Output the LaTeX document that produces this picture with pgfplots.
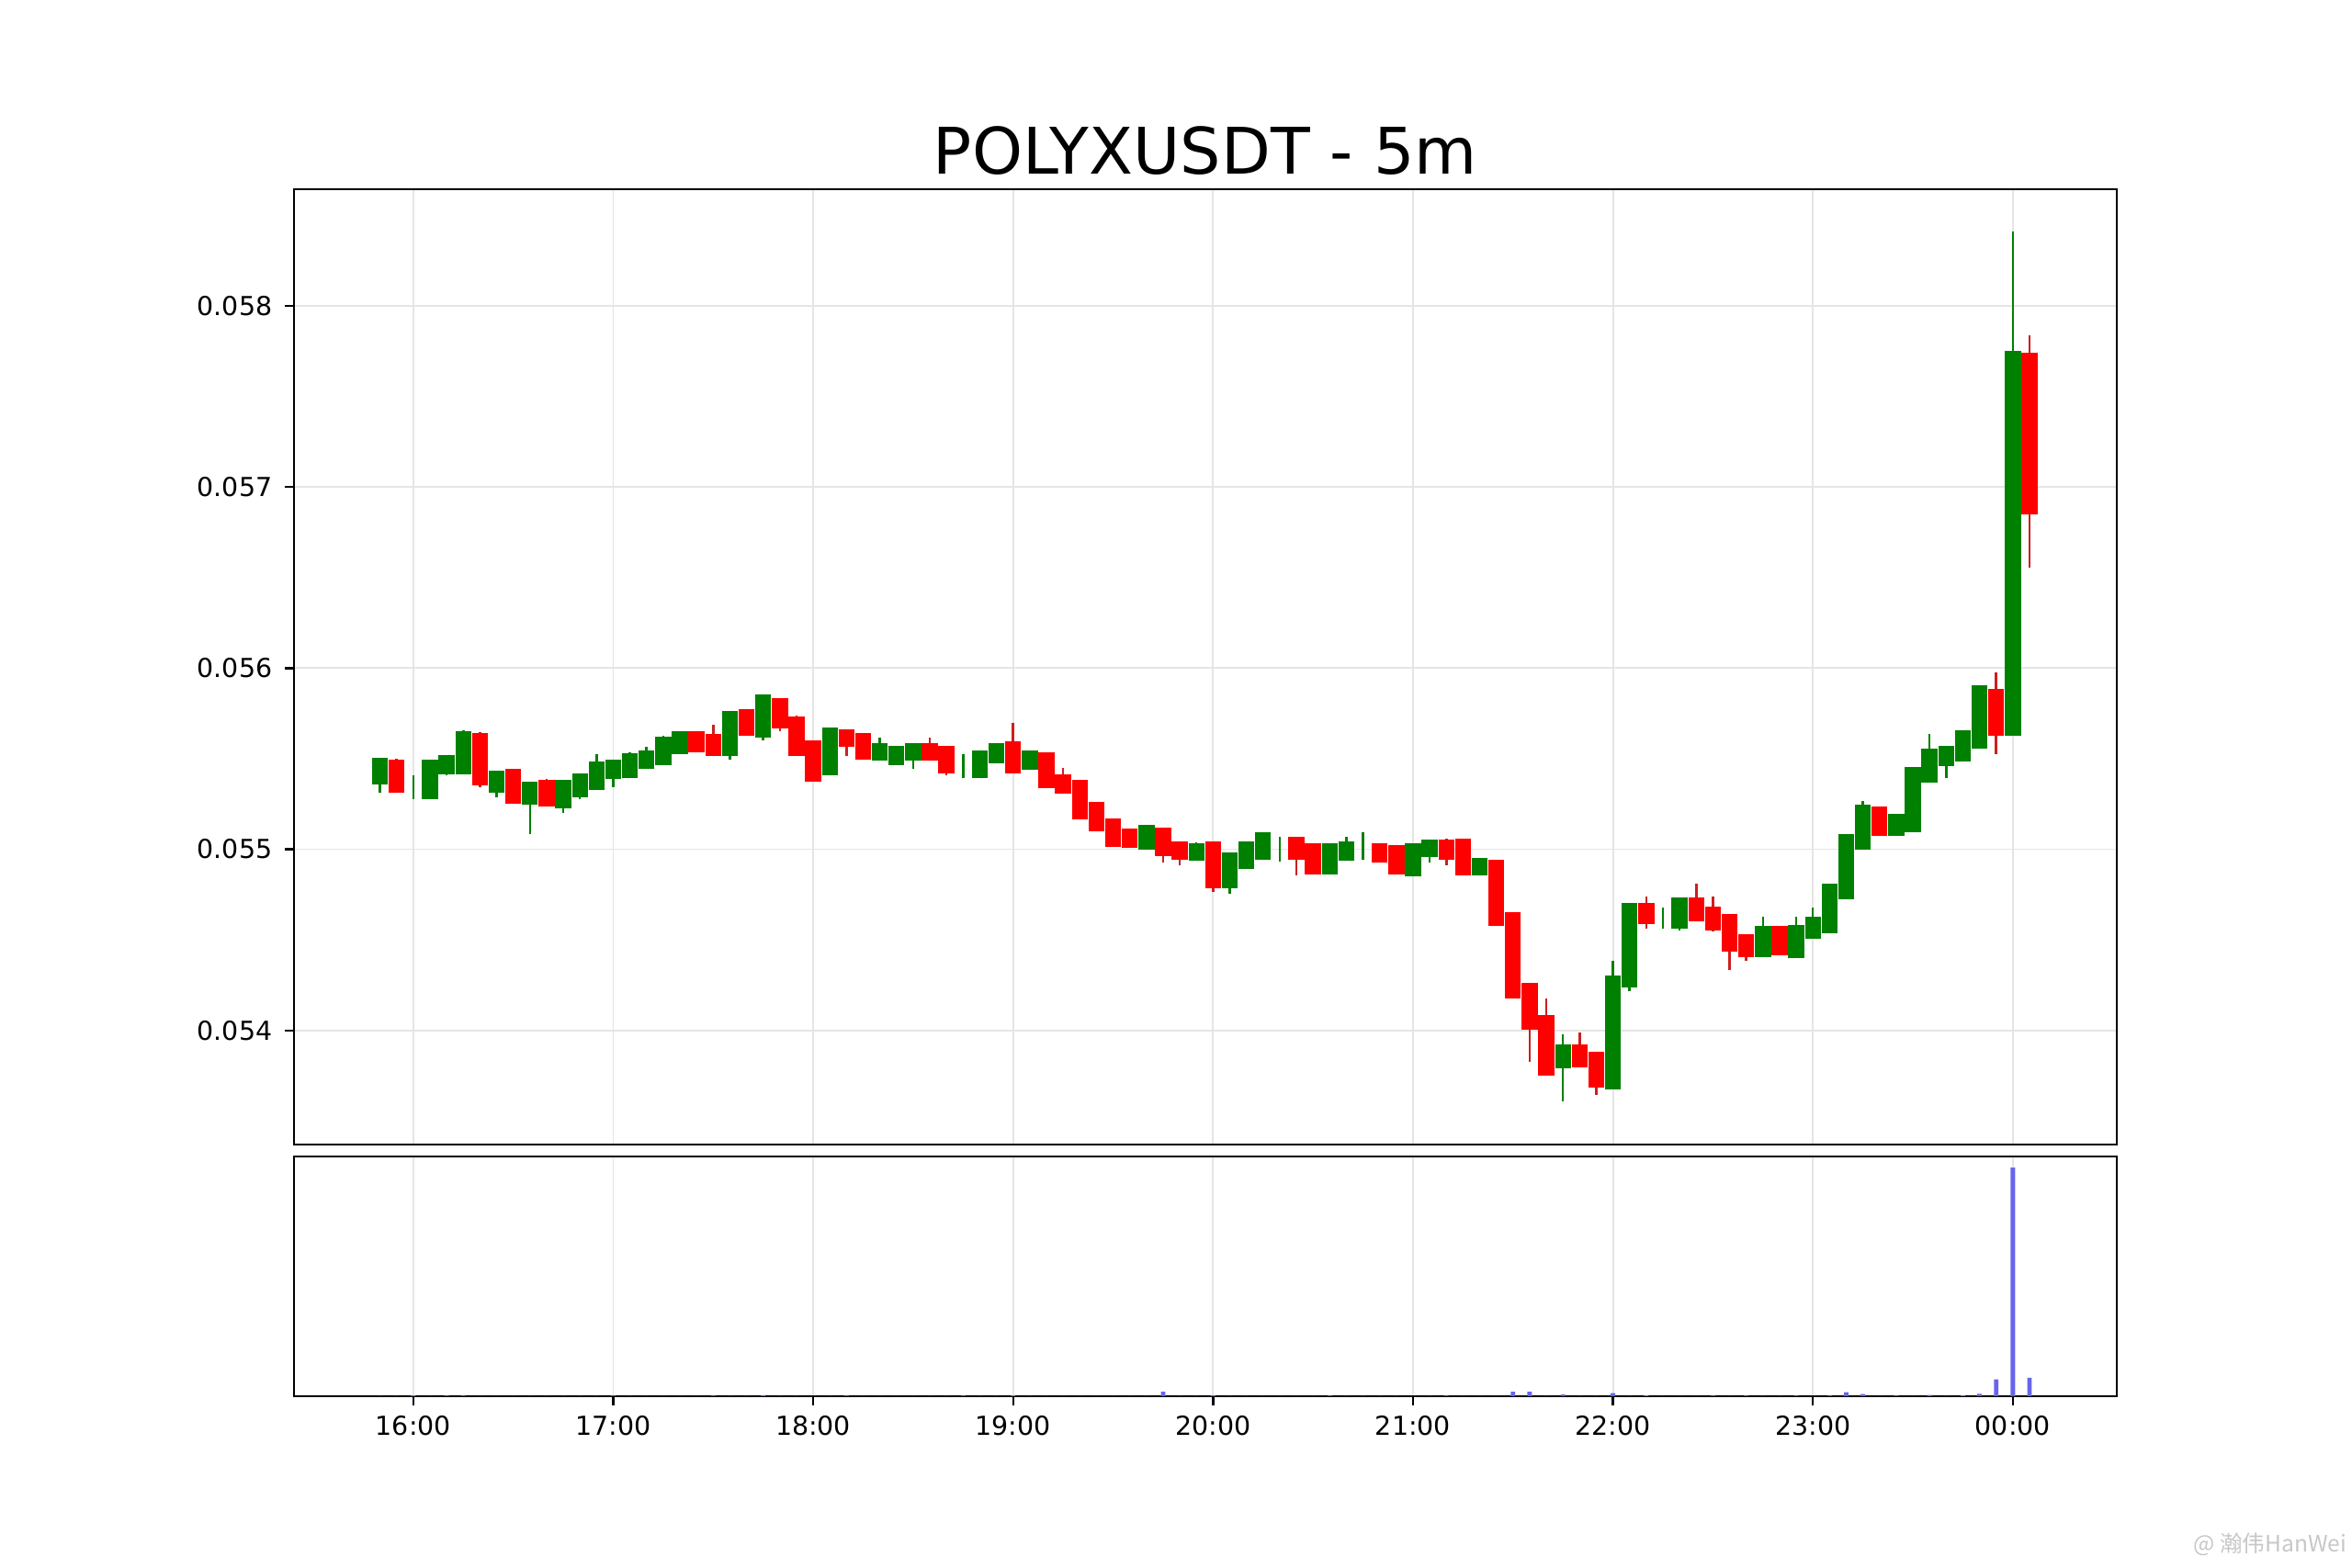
\documentclass[border=0pt]{standalone}
\usepackage{fontspec}
\setmainfont{DejaVu Sans}
\newfontfamily\cjk{Noto Sans CJK SC}
\usepackage{pgfplots}
\usepackage{pgfplotstable}
\pgfplotsset{compat=1.18}
\definecolor{cgreen}{RGB}{0,128,0}
\definecolor{cred}{RGB}{255,0,0}
\definecolor{wred}{RGB}{205,30,30}
\definecolor{volblue}{RGB}{102,102,235}
\definecolor{gridc}{RGB}{229,229,229}
\pgfplotstableread{
t O H L C V
-10 0.055356 0.055505 0.055314 0.055505 0.05
-5 0.055497 0.055500 0.055314 0.055314 0.05
0 0.055350 0.055409 0.055277 0.055350 0.3
5 0.055277 0.055493 0.055277 0.055493 0.05
10 0.055415 0.055522 0.055407 0.055522 0.2
15 0.055415 0.055655 0.055415 0.055652 0.2
20 0.055644 0.055649 0.055344 0.055353 0.05
25 0.055314 0.055434 0.055285 0.055434 0.05
30 0.055446 0.055446 0.055251 0.055251 0.05
35 0.055248 0.055373 0.055086 0.055373 0.05
40 0.055385 0.055387 0.055238 0.055238 0.05
45 0.055226 0.055383 0.055201 0.055383 0.05
50 0.055285 0.055420 0.055277 0.055420 0.05
55 0.055327 0.055525 0.055327 0.055483 0.05
60 0.055387 0.055493 0.055344 0.055493 0.2
65 0.055395 0.055534 0.055395 0.055532 0.05
70 0.055446 0.055568 0.055446 0.055544 0.05
75 0.055466 0.055627 0.055466 0.055623 0.05
80 0.055525 0.055652 0.055525 0.055652 0.05
85 0.055652 0.055652 0.055534 0.055534 0.05
90 0.055635 0.055687 0.055513 0.055513 0.2
95 0.055513 0.055764 0.055496 0.055764 0.05
100 0.055772 0.055772 0.055627 0.055627 0.05
105 0.055615 0.055855 0.055603 0.055855 0.4
110 0.055835 0.055837 0.055654 0.055666 0.05
115 0.055733 0.055738 0.055513 0.055513 0.05
120 0.055601 0.055601 0.055375 0.055375 0.05
125 0.055407 0.055674 0.055407 0.055674 0.05
130 0.055662 0.055662 0.055513 0.055564 0.2
135 0.055640 0.055640 0.055496 0.055496 0.05
140 0.055488 0.055618 0.055488 0.055585 0.05
145 0.055466 0.055573 0.055466 0.055573 0.05
150 0.055488 0.055585 0.055446 0.055585 0.05
155 0.055585 0.055618 0.055488 0.055488 0.05
160 0.055573 0.055573 0.055407 0.055417 0.05
165 0.055460 0.055525 0.055395 0.055460 0.2
170 0.055395 0.055547 0.055395 0.055547 0.05
175 0.055475 0.055585 0.055475 0.055585 0.05
180 0.055598 0.055699 0.055417 0.055417 0.3
185 0.055437 0.055544 0.055437 0.055544 0.05
190 0.055534 0.055534 0.055336 0.055336 0.05
195 0.055416 0.055449 0.055306 0.055306 0.05
200 0.055383 0.055383 0.055167 0.055167 0.05
205 0.055263 0.055263 0.055099 0.055099 0.05
210 0.055172 0.055172 0.055015 0.055015 0.05
215 0.055116 0.055116 0.055006 0.055006 0.05
220 0.054996 0.055137 0.054996 0.055137 0.05
225 0.055121 0.055121 0.054925 0.054964 2.0
230 0.055045 0.055045 0.054913 0.054944 0.05
235 0.054939 0.055037 0.054939 0.055035 0.05
240 0.055043 0.055043 0.054765 0.054787 0.4
245 0.054787 0.054981 0.054756 0.054981 0.05
250 0.054893 0.055043 0.054893 0.055043 0.05
255 0.054944 0.055096 0.054944 0.055096 0.05
260 0.055000 0.055069 0.054934 0.055000 0.05
265 0.055070 0.055070 0.054854 0.054944 0.05
270 0.055035 0.055035 0.054863 0.054863 0.05
275 0.054863 0.055035 0.054863 0.055035 0.2
280 0.054939 0.055069 0.054939 0.055043 0.05
285 0.055020 0.055096 0.054944 0.055020 0.05
290 0.055035 0.055035 0.054927 0.054927 0.05
295 0.055023 0.055023 0.054863 0.054863 0.05
300 0.054849 0.055035 0.054849 0.055035 0.05
305 0.054956 0.055054 0.054927 0.055054 0.05
310 0.055054 0.055057 0.054913 0.054944 0.2
315 0.055057 0.055057 0.054854 0.054854 0.05
320 0.054854 0.054952 0.054854 0.054952 0.05
325 0.054942 0.054942 0.054575 0.054575 0.05
330 0.054655 0.054655 0.054178 0.054178 2.0
335 0.054263 0.054263 0.053827 0.054006 2.0
340 0.054085 0.054178 0.053752 0.053752 0.05
345 0.053789 0.053979 0.053607 0.053925 0.7
350 0.053925 0.053987 0.053798 0.053798 0.05
355 0.053882 0.053882 0.053646 0.053685 0.05
360 0.053674 0.054386 0.053674 0.054302 1.3
365 0.054237 0.054706 0.054215 0.054706 0.05
370 0.054706 0.054739 0.054563 0.054587 0.3
375 0.054620 0.054680 0.054563 0.054620 0.05
380 0.054563 0.054736 0.054553 0.054736 0.05
385 0.054736 0.054812 0.054604 0.054604 0.05
390 0.054685 0.054739 0.054545 0.054553 0.2
395 0.054643 0.054643 0.054335 0.054437 0.05
400 0.054533 0.054533 0.054386 0.054406 0.2
405 0.054406 0.054630 0.054406 0.054575 0.05
410 0.054575 0.054575 0.054415 0.054415 0.05
415 0.054398 0.054630 0.054398 0.054584 0.2
420 0.054504 0.054680 0.054504 0.054626 0.05
425 0.054537 0.054812 0.054537 0.054812 0.2
430 0.054724 0.055083 0.054724 0.055083 1.75
435 0.054998 0.055265 0.054998 0.055246 0.9
440 0.055235 0.055235 0.055074 0.055074 0.05
445 0.055074 0.055196 0.055074 0.055196 0.2
450 0.055096 0.055454 0.055096 0.055454 0.05
455 0.055367 0.055635 0.055367 0.055556 0.5
460 0.055458 0.055573 0.055395 0.055573 0.05
465 0.055486 0.055655 0.055486 0.055655 0.3
470 0.055554 0.055907 0.055554 0.055907 1.0
475 0.055884 0.055977 0.055525 0.055628 7.4
480 0.055628 0.058413 0.055628 0.057750 100
485 0.057740 0.057837 0.056556 0.056849 8.1
}\candles
\pgfplotsset{
  base/.style={
    scale only axis, width=198.4mm, anchor=south west,
    xmin=-35.8, xmax=511.2,
    xtick={0,60,120,180,240,300,360,420,480},
    tick align=outside, major tick length=1mm,
    xtick pos=bottom, ytick pos=left,
    axis line style={line width=0.23mm, black},
    tick style={line width=0.23mm, black},
    major grid style={draw=gridc, line width=0.18mm},
    tick label style={font=\fontsize{8.1pt}{9.7pt}\selectfont, inner sep=0pt},
    /pgf/number format/assume math mode=true,
  }
}
\begin{document}
\begin{tikzpicture}
\path[use as bounding box] (0,0) rectangle (256mm,170.7mm);
\begin{axis}[base,
  at={(32mm,46.13mm)}, height=104mm,
  ymin=0.0533716, ymax=0.0586455,
  scaled y ticks=false,
  ytick={0.054,0.055,0.056,0.057,0.058},
  yticklabels={0.054,0.055,0.056,0.057,0.058},
  xticklabels={},
  xtick style={draw=none},
  xmajorgrids, ymajorgrids,
  yticklabel style={xshift=-1.3mm},
  title={POLYXUSDT - 5m},
  title style={at={(0.5,1)}, anchor=base, yshift=-0.5mm, inner sep=0pt,
    font=\fontsize{19.9pt}{24pt}\selectfont},
]
% wicks
\addplot[draw=none, mark=none, restrict expr to domain={\thisrow{C}-\thisrow{O}}{0:1},
  error bars/.cd, y dir=plus, y explicit, error mark=none,
  error bar style={draw=cgreen, solid, line width=0.25mm}]
  table[x=t, y=L, y error plus expr=\thisrow{H}-\thisrow{L}]{\candles};
\addplot[draw=none, mark=none, restrict expr to domain={\thisrow{C}-\thisrow{O}}{-1:-0.0000001},
  error bars/.cd, y dir=plus, y explicit, error mark=none,
  error bar style={draw=wred, solid, line width=0.25mm}]
  table[x=t, y=L, y error plus expr=\thisrow{H}-\thisrow{L}]{\candles};
% bodies
\addplot[draw=none, mark=none, restrict expr to domain={\thisrow{C}-\thisrow{O}}{0:1},
  error bars/.cd, y dir=plus, y explicit, error mark=none,
  error bar style={draw=cgreen, solid, line width=1.74mm}]
  table[x=t, y=O, y error plus expr=\thisrow{C}-\thisrow{O}]{\candles};
\addplot[draw=none, mark=none, restrict expr to domain={\thisrow{C}-\thisrow{O}}{-1:-0.0000001},
  error bars/.cd, y dir=plus, y explicit, error mark=none,
  error bar style={draw=cred, solid, line width=1.74mm}]
  table[x=t, y=C, y error plus expr=\thisrow{O}-\thisrow{C}]{\candles};
\end{axis}
\begin{axis}[base,
  at={(32mm,18.7mm)}, height=26.12mm,
  ymin=0, ymax=105, ytick=\empty,
  xticklabels={16:00,17:00,18:00,19:00,20:00,21:00,22:00,23:00,00:00},
  xticklabel style={yshift=-1.1mm},
  xmajorgrids,
]
\addplot[ybar, bar width=1.35, fill=volblue, draw=none] table[x=t, y=V]{\candles};
\end{axis}
\node[anchor=east, inner sep=0pt, text=black!22, font=\cjk\fontsize{7pt}{8pt}\selectfont] at (255.5mm,2.6mm) {@ 瀚伟HanWei};
\end{tikzpicture}
\end{document}
